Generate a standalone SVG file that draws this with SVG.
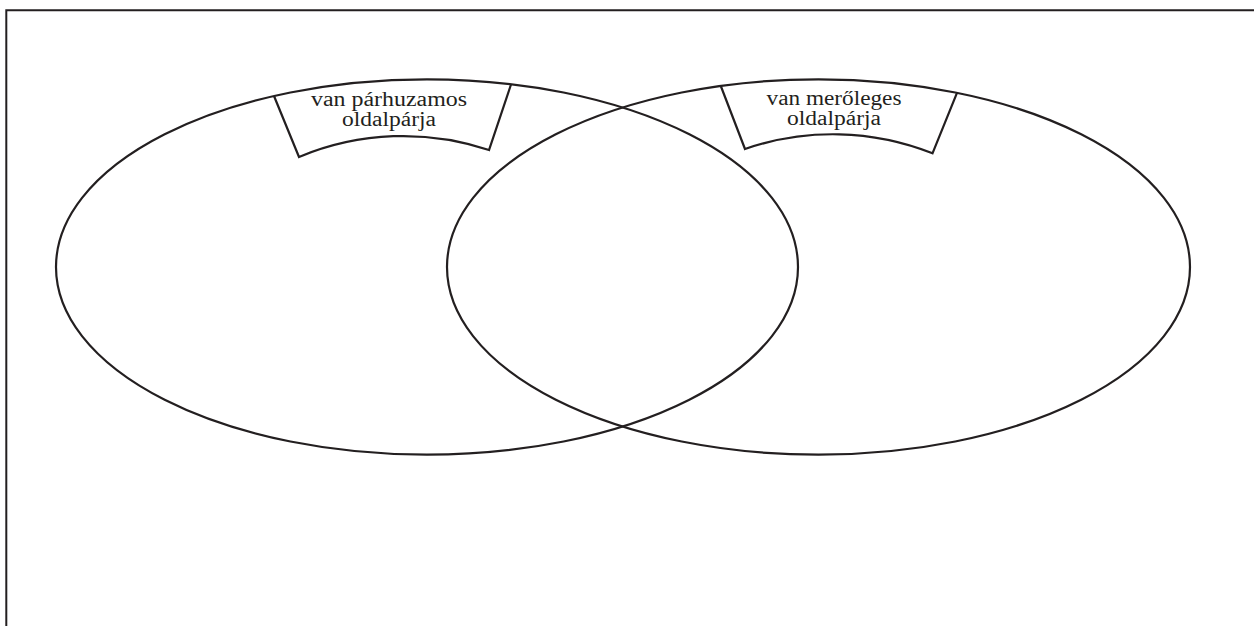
<svg xmlns="http://www.w3.org/2000/svg" width="1254" height="626" viewBox="0 0 1254 626">
<style>
.ln{fill:none;stroke:#231f20;stroke-width:2.2}
.fr{fill:none;stroke:#231f20;stroke-width:2}
.t{font-family:"Liberation Serif","Times New Roman",serif;font-size:20px;fill:#231f20;text-anchor:middle}
</style>
<rect width="1254" height="626" fill="#fff"/>
<g id="frame">
<path class="fr" d="M6.3 626 V10.3 H1254"/>
</g>
<g id="set-parallel">
<ellipse class="ln" cx="427" cy="267" rx="371" ry="187.7"/>
</g>
<g id="set-perpendicular">
<ellipse class="ln" cx="818.5" cy="267" rx="371.5" ry="187.7"/>
</g>
<g id="label-parallel">
<path class="ln" d="M274 96 L299 157 A270 270 0 0 1 489 150 L511 84.5"/>
<text class="t" x="389" y="106" textLength="156" lengthAdjust="spacingAndGlyphs">van párhuzamos</text>
<text class="t" x="389" y="126" textLength="94" lengthAdjust="spacingAndGlyphs">oldalpárja</text>
</g>
<g id="label-perpendicular">
<path class="ln" d="M721 86.5 L745 149 A270 270 0 0 1 932.5 153.3 L957 92.8"/>
<text class="t" x="834" y="105" textLength="135" lengthAdjust="spacingAndGlyphs">van merőleges</text>
<text class="t" x="834" y="125" textLength="94" lengthAdjust="spacingAndGlyphs">oldalpárja</text>
</g>
<g id="connectors"></g>
</svg>
